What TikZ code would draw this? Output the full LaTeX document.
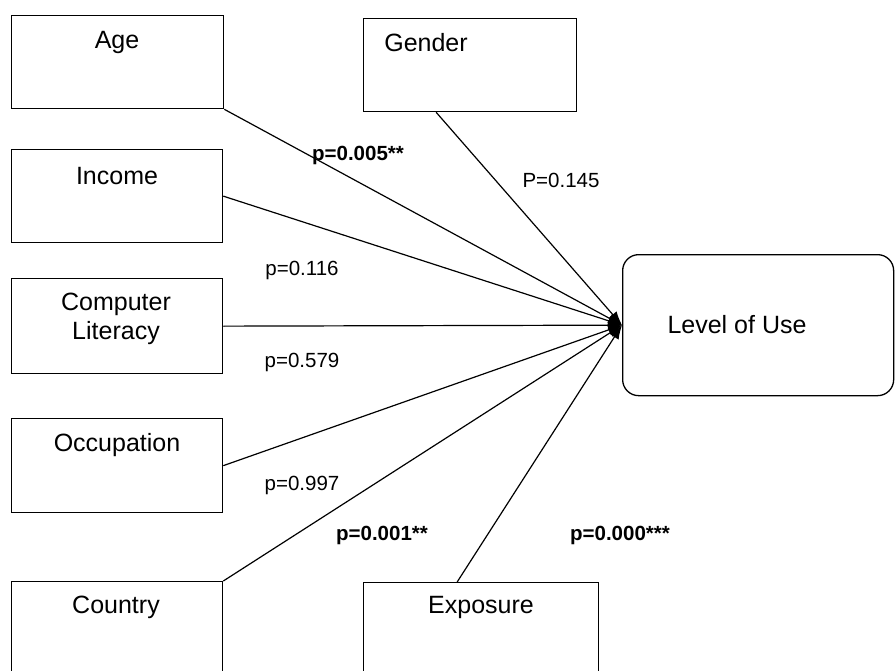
\documentclass[tikz,border=0pt]{standalone}
\usepackage{fontspec}
\setmainfont{Liberation Sans}
\usetikzlibrary{arrows.meta}
\tikzset{
  varbox/.style={draw, line width=1.3pt, rectangle, inner sep=0pt, anchor=north west},
  boxtext/.style={font=\fontsize{25}{29}\selectfont, anchor=center, align=center},
  plabel/.style={font=\fontsize{20.5}{24}\selectfont, anchor=center},
  pbold/.style={plabel, font=\fontsize{20.5}{24}\selectfont\bfseries},
  link/.style={line width=1.2pt, -{Latex[length=14pt,width=10pt]}}
}
\begin{document}
\begin{tikzpicture}[x=1pt, y=-1pt]
  \useasboundingbox (0,0) rectangle (896,671);
  \clip (0,0) rectangle (896,671);

  % predictor boxes
  \node[varbox, minimum width=212pt, minimum height=93pt] (age) at (11,15) {};
  \node[varbox, minimum width=211pt, minimum height=93pt] (inc) at (11,149) {};
  \node[varbox, minimum width=211pt, minimum height=95pt] (lit) at (11,278) {};
  \node[varbox, minimum width=211pt, minimum height=94pt] (occ) at (11,418) {};
  \node[varbox, minimum width=211pt, minimum height=110pt] (cty) at (11,581) {};
  \node[varbox, minimum width=213pt, minimum height=93pt] (gen) at (363,18) {};
  \node[varbox, minimum width=235pt, minimum height=110pt] (exp) at (363,582) {};

  % outcome box
  \node[draw, line width=1.3pt, rounded corners=16pt, inner sep=0pt,
        minimum width=271pt, minimum height=141pt, anchor=north west] (lou) at (622,254) {};

  % box captions
  \node[boxtext] at (117,42) {Age};
  \node[boxtext] at (117,176) {Income};
  \node[boxtext] at (116,319) {Computer\\Literacy};
  \node[boxtext] at (117,445) {Occupation};
  \node[boxtext] at (116,607) {Country};
  \node[boxtext] at (426,43) {Gender};
  \node[boxtext] at (481,607) {Exposure};
  \node[boxtext] at (737,325) {Level of Use};

  % connector start points
  \coordinate (genout) at ([xshift=-34pt]gen.south);
  \coordinate (expout) at ([xshift=-24pt]exp.north);
  \coordinate (hub) at (lou.west);

  % paths into the outcome
  \draw[link] (age.south east) -- (hub);
  \draw[link] (inc.east) -- (hub);
  \draw[link] (lit.east) -- (hub);
  \draw[link] (occ.east) -- (hub);
  \draw[link] (cty.north east) -- (hub);
  \draw[link] (genout) -- (hub);
  \draw[link] (expout) -- (hub);

  % significance values
  \node[pbold] at (358,155) {p=0.005**};
  \node[plabel] at (561,180) {P=0.145};
  \node[plabel] at (302,270) {p=0.116};
  \node[plabel] at (302,362) {p=0.579};
  \node[plabel] at (302,485) {p=0.997};
  \node[pbold] at (382,535) {p=0.001**};
  \node[pbold] at (620,535) {p=0.000***};
\end{tikzpicture}
\end{document}
